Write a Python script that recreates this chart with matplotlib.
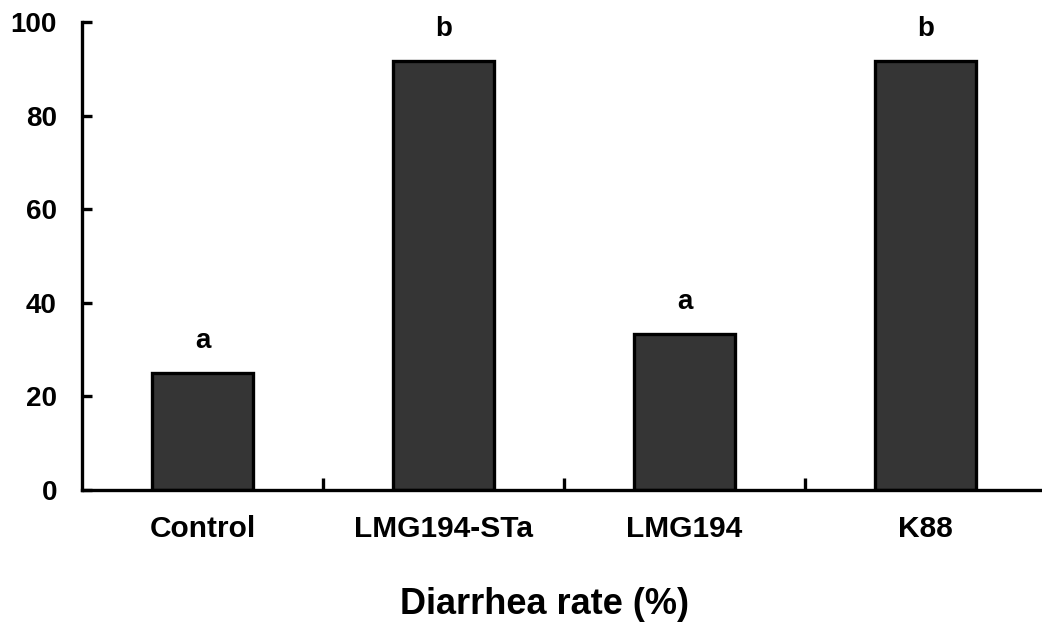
import matplotlib.pyplot as plt
import numpy as np

groups = ["Control", "LMG194-STa", "LMG194", "K88"]
rates = [25.0, 91.7, 33.3, 91.7]
letters = ["a", "b", "a", "b"]

plt.rcParams["font.family"] = ["Liberation Sans", "DejaVu Sans"]
plt.rcParams["font.weight"] = "bold"

fig = plt.figure(figsize=(10.42, 6.26), dpi=100)
ax = fig.add_axes([82 / 1042, 136 / 626, 964 / 1042, 468 / 626])

x = np.arange(len(groups))
ax.bar(x, rates, width=0.415, color="#353535", edgecolor="black", linewidth=2.4)

# significance letters above bars
for xi, val, lab in zip(x, rates, letters):
    ax.text(xi, val + 4, lab, ha="center", va="bottom", fontsize=20, fontweight="bold")

ax.set_xlim(-0.5, 3.5)
ax.set_ylim(0, 100)
ax.set_yticks(np.arange(0, 101, 20))
ax.set_xticks(x)
ax.set_xticklabels(groups)
ax.set_xticks([0.5, 1.5, 2.5], minor=True)

for side in ["top", "right"]:
    ax.spines[side].set_visible(False)
for side in ["left", "bottom"]:
    ax.spines[side].set_linewidth(2.4)

ax.tick_params(axis="y", direction="in", length=7, width=2.4, pad=18, labelsize=20)
ax.tick_params(axis="x", which="major", length=0, pad=18, labelsize=21.5)
ax.tick_params(axis="x", which="minor", direction="in", length=9, width=2.4)
for lbl in ax.get_xticklabels() + ax.get_yticklabels():
    lbl.set_fontweight("bold")

fig.text(545 / 1042, 1 - 605 / 626, "Diarrhea rate (%)", ha="center", va="center",
         fontsize=26, fontweight="bold")

fig.savefig("out.png", dpi=100)
